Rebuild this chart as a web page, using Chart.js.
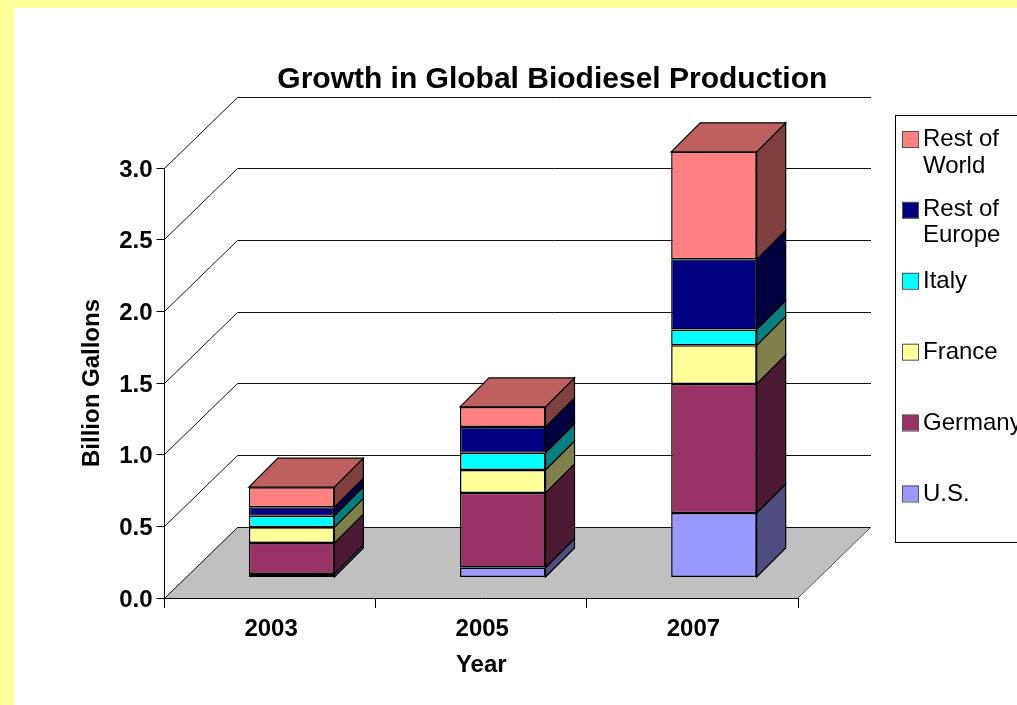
<!DOCTYPE html>
<html>
<head>
<meta charset="utf-8">
<title>Growth in Global Biodiesel Production</title>
<script src="https://cdn.jsdelivr.net/npm/chart.js@4"></script>
<style>
  html, body { margin: 0; padding: 0; background: #FFFF99; overflow: hidden; }
  #wrap { position: absolute; left: 14px; top: 8px; width: 1003px; height: 697px; background: #fff; }
  canvas { display: block; }
</style>
</head>
<body>
<div id="wrap"><canvas id="bioChart" width="1003" height="697"></canvas></div>
<script>
  var years = ['2003', '2005', '2007'];
  var yTicks = [0, 0.5, 1, 1.5, 2, 2.5, 3];

  // billion gallons
  var us = [0.025, 0.07, 0.45];
  var germany = [0.215, 0.52, 0.90];
  var france = [0.11, 0.16, 0.27];
  var italy = [0.08, 0.12, 0.11];
  var restEurope = [0.06, 0.18, 0.49];
  var restWorld = [0.14, 0.14, 0.75];

  var FONT = '"Liberation Sans", Arial, sans-serif';

  // 3D look: how far the bars sit in from the front, and how deep things are
  var WALL_DX = 73, WALL_DY = 71;
  var BAR_SHIFT_X = 21.5, BAR_SHIFT_Y = 20.5;
  var BAR_DX = 29, BAR_DY = 29;

  function shade(hex, f) {
    var r = parseInt(hex.substr(1, 2), 16), g = parseInt(hex.substr(3, 2), 16), b = parseInt(hex.substr(5, 2), 16);
    return 'rgb(' + Math.round(r * f) + ',' + Math.round(g * f) + ',' + Math.round(b * f) + ')';
  }

  function series(label, data, color) {
    return {
      label: label, data: data, backgroundColor: color, borderColor: '#000',
      borderWidth: 1.5, borderSkipped: false, clip: false,
      barPercentage: 0.405, categoryPercentage: 1
    };
  }

  // back wall, side wall and floor
  var wallsPlugin = {
    id: 'walls',
    beforeDraw: function (chart) {
      var ctx = chart.ctx, y = chart.scales.y, a = chart.chartArea;
      var base = y.getPixelForValue(0);
      ctx.save();
      ctx.fillStyle = '#C0C0C0';
      ctx.beginPath();
      ctx.moveTo(a.left, base);
      ctx.lineTo(a.right, base);
      ctx.lineTo(a.right + WALL_DX, base - WALL_DY);
      ctx.lineTo(a.left + WALL_DX, base - WALL_DY);
      ctx.closePath();
      ctx.fill();
      ctx.strokeStyle = '#111';
      ctx.lineWidth = 1;
      yTicks.forEach(function (v) {
        var py = Math.floor(y.getPixelForValue(v)) + 0.5;
        ctx.beginPath();
        ctx.moveTo(a.left, py);
        ctx.lineTo(a.left + WALL_DX, py - WALL_DY);
        ctx.lineTo(a.right + WALL_DX, py - WALL_DY);
        ctx.stroke();
      });
      // right edge of the floor
      ctx.beginPath();
      ctx.moveTo(a.right, base);
      ctx.lineTo(a.right + WALL_DX, base - WALL_DY);
      ctx.strokeStyle = '#555';
      ctx.stroke();
      ctx.restore();
    }
  };

  // chart.js draws the front faces, moved into the floor; sides and tops added here
  var depthPlugin = {
    id: 'depth',
    beforeDatasetsDraw: function (chart) {
      chart.ctx.save();
      chart.ctx.translate(BAR_SHIFT_X, -BAR_SHIFT_Y);
    },
    afterDatasetsDraw: function (chart) {
      var ctx = chart.ctx;
      ctx.lineWidth = 1.2;
      ctx.strokeStyle = '#000';
      chart.data.datasets.forEach(function (ds, i) {
        chart.getDatasetMeta(i).data.forEach(function (bar) {
          var right = bar.x + bar.width / 2, left = bar.x - bar.width / 2;
          ctx.fillStyle = shade(ds.backgroundColor, 0.5);
          ctx.beginPath();
          ctx.moveTo(right, bar.base);
          ctx.lineTo(right + BAR_DX, bar.base - BAR_DY);
          ctx.lineTo(right + BAR_DX, bar.y - BAR_DY);
          ctx.lineTo(right, bar.y);
          ctx.closePath();
          ctx.fill();
          ctx.stroke();
          if (i === chart.data.datasets.length - 1) {
            ctx.fillStyle = shade(ds.backgroundColor, 0.75);
            ctx.beginPath();
            ctx.moveTo(left, bar.y);
            ctx.lineTo(left + BAR_DX, bar.y - BAR_DY);
            ctx.lineTo(right + BAR_DX, bar.y - BAR_DY);
            ctx.lineTo(right, bar.y);
            ctx.closePath();
            ctx.fill();
            ctx.stroke();
          }
        });
      });
      ctx.restore();
    }
  };

  // the legend box runs off the right side of the picture
  var legendPlugin = {
    id: 'boxLegend',
    afterDraw: function (chart) {
      var ctx = chart.ctx, items = chart.data.datasets.slice().reverse();
      ctx.save();
      ctx.strokeStyle = '#000';
      ctx.lineWidth = 1;
      ctx.strokeRect(881.5, 107.5, 140, 427);
      ctx.font = '24px ' + FONT;
      ctx.textBaseline = 'middle';
      ctx.textAlign = 'left';
      items.forEach(function (ds, i) {
        var cy = 131 + i * 70.9;
        ctx.fillStyle = ds.backgroundColor;
        ctx.fillRect(888, cy - 8, 16, 16);
        ctx.strokeStyle = '#555';
        ctx.strokeRect(888.5, cy - 7.5, 16, 16);
        ctx.fillStyle = '#000';
        var lines = ds.label.indexOf('Rest of ') === 0 ? ['Rest of', ds.label.substr(8)] : [ds.label];
        lines.forEach(function (line, k) {
          ctx.fillText(line, 909, cy + (i === 1 ? -1 : 0.5) + k * 26.5);
        });
      });
      ctx.restore();
    }
  };

  // the title sits over the plot, not over the whole canvas; axis labels need a small push
  var nudges = {
    id: 'nudges',
    afterLayout: function (chart) {
      chart.titleBlock.left += 114.5;
      chart.titleBlock.right += 114.5;
      chart.scales.y.getLabelItems(chart.chartArea).forEach(function (item) {
        item.textOffset += 2;
      });
      chart.scales.x.getLabelItems(chart.chartArea).forEach(function (item) {
        item.options.translation[0] += 1;
      });
    }
  };

  var ctx = document.getElementById('bioChart').getContext('2d');
  var bioChart = new Chart(ctx, {
    type: 'bar',
    data: {
      labels: years,
      datasets: [
        series('U.S.', us, '#9999FF'),
        series('Germany', germany, '#993366'),
        series('France', france, '#FFFF99'),
        series('Italy', italy, '#00FFFF'),
        series('Rest of Europe', restEurope, '#000080'),
        series('Rest of World', restWorld, '#FF8080')
      ]
    },
    plugins: [wallsPlugin, depthPlugin, legendPlugin, nudges],
    options: {
      responsive: false,
      animation: false,
      layout: { padding: { left: 63.6, right: 219, top: 0, bottom: 25.6 } },
      plugins: {
        legend: { display: false },
        tooltip: { enabled: false },
        title: {
          display: true,
          text: 'Growth in Global Biodiesel Production',
          color: '#000',
          font: { family: FONT, size: 30, weight: 'bold' },
          padding: { top: 54, bottom: 70 }
        }
      },
      scales: {
        x: {
          stacked: true,
          afterFit: function (scale) { scale.height = 81.4; },
          grid: { drawOnChartArea: false, color: '#000', tickLength: 10 },
          border: { color: '#000' },
          ticks: { color: '#000', maxRotation: 0, padding: 7, font: { family: FONT, size: 24, weight: 'bold' } },
          title: { display: true, text: 'Year', color: '#000', padding: 0, font: { family: FONT, size: 24, weight: 'bold' } }
        },
        y: {
          stacked: true,
          min: 0,
          max: 3,
          afterFit: function (scale) { scale.width = 86.9; },
          grid: { drawOnChartArea: false, color: '#000', tickLength: 8 },
          border: { color: '#000' },
          ticks: {
            stepSize: 0.5,
            color: '#000',
            padding: 4,
            font: { family: FONT, size: 24, weight: 'bold' },
            callback: function (v) { return v.toFixed(1); }
          },
          title: { display: true, text: 'Billion Gallons', color: '#000', padding: 0, font: { family: FONT, size: 24, weight: 'bold' } }
        }
      }
    }
  });
</script>
</body>
</html>
